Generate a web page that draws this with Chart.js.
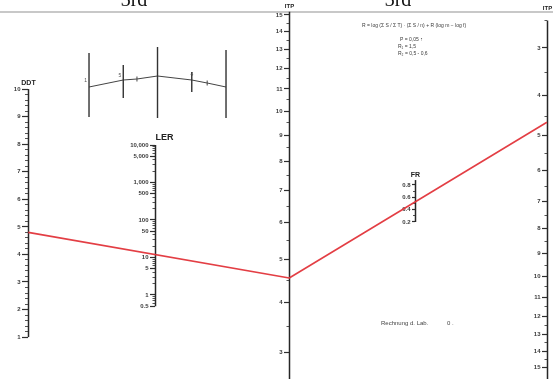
<!DOCTYPE html>
<html>
<head>
<meta charset="utf-8">
<script src="https://cdn.jsdelivr.net/npm/chart.js@4/dist/chart.umd.min.js"></script>
<style>
  html, body { margin: 0; padding: 0; background: #fff; }
  #wrap { width: 553px; height: 379px; position: relative; }
</style>
</head>
<body>
<div id="wrap"><canvas id="nomo" width="553" height="379"></canvas></div>
<script>
// ---- Nomogram scale values ----
const ddtLabels = [1, 2, 3, 4, 5, 6, 7, 8, 9, 10];
const lerLabels = [0.5, 1, 5, 10, 50, 100, 500, 1000, 5000, 10000];
const lerLabelText = ['0.5', '1', '5', '10', '50', '100', '500', '1,000', '5,000', '10,000'];
const itpLabels = [3, 4, 5, 6, 7, 8, 9, 10, 11, 12, 13, 14, 15];
const frLabels = [0.2, 0.4, 0.6, 0.8];
const itpShift = 2; // ITP scales are graduated on log(ITP + 2)

// reading line: DDT -> (LER) -> ITP -> (FR) -> ITP
const readingAxes = ['ddt', 'itp', 'itpR'];
const readingValues = [4.8, 4.55, 4.65];

// small key diagram (five nomogram lines and the reading curve)
const sketchLongLines = [[0, 4.7, -1.7], [2, 5.3, -1.8], [4, 5.0, -1.8]];
const sketchShortLines = [[1, 3.5, 0.2], [3, 2.8, 0.8]];
const sketchCurveX = [0, 1, 1.4, 2, 3, 3.45, 4];
const sketchCurveY = [1.3, 2.0, 2.1, 2.4, 2.0, 1.7, 1.3];

// minor graduations
const ddtMinor = [];
for (let i = 10; i <= 100; i += 2) { if (i % 10) ddtMinor.push(i / 10); }
const lerMinor = [];
[0.1, 1, 10, 100, 1000].forEach(d => [2, 3, 4, 6, 7, 8, 9].forEach(m => {
  const v = +(d * m).toPrecision(3);
  if (v > 0.5 && v < 10000) lerMinor.push(v);
}));
const itpMinor = [];
for (let i = 5; i <= 29; i += 2) itpMinor.push(i / 2);
const frMinor = [0.3, 0.5, 0.7];

// ---- axis layout ----
const frameX = { ddt: 5.1, ler: 28.0, itp: 52.3, fr: 75.0, itpR: 98.9 };
const axisDefs = {
  ddt:  { type: 'linear', min: -0.52, max: 13.23, reverse: false, majors: ddtLabels, minors: ddtMinor,
          text: v => String(v), span: [1, 10], tick: 6, title: 'DDT', titleSize: 7 },
  ler:  { type: 'logarithmic', min: 0.00575, max: 7.36e7, reverse: false, majors: lerLabels, minors: lerMinor,
          text: v => lerLabelText[lerLabels.indexOf(v)], span: [0.5, 10000], tick: 5, title: 'LER', titleSize: 9 },
  itp:  { type: 'logarithmic', min: 4.54, max: 17.95, reverse: false, shift: itpShift,
          majors: itpLabels, minors: itpMinor, text: v => String(v), span: [2.4, 15.2], tick: 5, title: 'ITP', titleSize: 6 },
  fr:   { type: 'linear', min: -2.346, max: 3.8, reverse: false, majors: frLabels, minors: frMinor,
          text: v => v.toFixed(1), span: [0.2, 0.88], tick: 3, title: 'FR', titleSize: 7 },
  itpR: { type: 'logarithmic', min: 4.16, max: 17.8, reverse: true, shift: itpShift,
          majors: itpLabels, minors: itpMinor, text: v => String(v), span: [2.5, 15.8], tick: 5, title: 'ITP', titleSize: 6 }
};

function toScale(name, v) { return v + (axisDefs[name].shift || 0); }

function zeroPad(s) { s.paddingTop = 0; s.paddingBottom = 0; s.paddingLeft = 0; s.paddingRight = 0; }

const scales = {
  x:  { type: 'linear', min: 0, max: 100, display: false },
  sx: { type: 'linear', axis: 'x', min: -2.599, max: 13.547, display: false },
  sy: { type: 'linear', axis: 'y', min: -27.9, max: 10, display: false }
};

Object.keys(axisDefs).forEach(name => {
  const d = axisDefs[name];
  const base = {
    type: d.type, axis: 'y', position: { x: frameX[name] },
    min: d.min, max: d.max, reverse: d.reverse, bounds: 'data',
    border: { display: false },
    afterFit: zeroPad
  };
  scales[name] = Object.assign({}, base, {
    afterBuildTicks: s => { s.ticks = d.majors.map(v => ({ value: toScale(name, v) })); },
    ticks: { display: false, autoSkip: false },
    grid: { drawOnChartArea: false, drawTicks: true, tickLength: d.tick, tickColor: '#2f2f2f', tickWidth: 1.2 }
  });
  scales[name + 'Minor'] = Object.assign({}, base, {
    afterBuildTicks: s => { s.ticks = d.minors.map(v => ({ value: toScale(name, v) })); },
    ticks: { display: false, autoSkip: false },
    grid: { drawOnChartArea: false, drawTicks: true, tickLength: Math.max(2, d.tick / 2), tickColor: '#555', tickWidth: 1 }
  });
});

// ---- datasets for the key diagram ----
const sketchSets = [];
sketchLongLines.concat(sketchShortLines).forEach(l => {
  sketchSets.push({
    data: [{ x: l[0], y: l[1] }, { x: l[0], y: l[2] }],
    xAxisID: 'sx', yAxisID: 'sy', showLine: true, borderColor: '#333', borderWidth: 1.4, pointRadius: 0
  });
});
sketchSets.push({
  data: sketchCurveX.map((x, i) => ({ x: x, y: sketchCurveY[i] })),
  xAxisID: 'sx', yAxisID: 'sy', showLine: true, borderColor: '#444', borderWidth: 1, tension: 0,
  pointRadius: sketchCurveX.map((x, i) => (i === 2 || i === 5) ? 2.5 : 0),
  pointStyle: 'line', rotation: 90, pointBorderColor: '#444', pointBorderWidth: 1
});

// ---- drawing of axis lines, labels, titles, reading line and annotations ----
const nomogramPlugin = {
  id: 'nomogram',
  beforeDraw(chart) {
    const ctx = chart.ctx;
    ctx.save();
    ctx.fillStyle = '#fff';
    ctx.fillRect(0, 0, chart.width, chart.height);
    ctx.fillStyle = '#111';
    ctx.font = '20px "Liberation Serif"';
    ctx.textAlign = 'center';
    ctx.textBaseline = 'alphabetic';
    ctx.fillText('3rd', 134, 6);
    ctx.fillText('3rd', 398, 6);
    ctx.strokeStyle = '#c8c8c8';
    ctx.lineWidth = 2;
    ctx.beginPath(); ctx.moveTo(0, 12); ctx.lineTo(chart.width, 12); ctx.stroke();
    ctx.restore();
  },
  afterDraw(chart) {
    const ctx = chart.ctx;
    const fx = chart.scales.x;
    ctx.save();
    Object.keys(axisDefs).forEach(name => {
      const d = axisDefs[name];
      const s = chart.scales[name];
      const x = Math.round(fx.getPixelForValue(frameX[name])) + 0.5;
      const y1 = s.getPixelForValue(toScale(name, d.span[0]));
      const y2 = s.getPixelForValue(toScale(name, d.span[1]));
      // axis line
      ctx.strokeStyle = '#262626';
      ctx.lineWidth = 1.5;
      ctx.beginPath(); ctx.moveTo(x, y1); ctx.lineTo(x, y2); ctx.stroke();
      // tick labels, left of the tick marks
      ctx.fillStyle = '#3a3a3a';
      ctx.font = 'bold 6px "Liberation Sans"';
      ctx.textAlign = 'right';
      ctx.textBaseline = 'middle';
      d.majors.forEach(v => {
        ctx.fillText(d.text(v), x - d.tick - 2, s.getPixelForValue(toScale(name, v)));
      });
      // title
      const top = Math.min(y1, y2);
      ctx.fillStyle = '#222';
      ctx.font = 'bold ' + d.titleSize + 'px "Liberation Sans"';
      ctx.textBaseline = 'bottom';
      if (name === 'ler') {
        ctx.textAlign = 'left';
        ctx.fillText(d.title, x, top - 3);
      } else if (name === 'itpR') {
        ctx.textAlign = 'center';
        ctx.fillText(d.title, x, 11);
      } else if (name === 'itp') {
        ctx.textAlign = 'center';
        ctx.fillText(d.title, x, 9);
      } else {
        ctx.textAlign = 'center';
        ctx.fillText(d.title, x, top - 2);
      }
    });

    // reading line
    ctx.strokeStyle = 'rgba(226, 52, 58, 0.95)';
    ctx.lineWidth = 1.6;
    ctx.lineJoin = 'round';
    ctx.beginPath();
    readingAxes.forEach((name, i) => {
      const px = fx.getPixelForValue(frameX[name]);
      const py = chart.scales[name].getPixelForValue(toScale(name, readingValues[i]));
      if (i === 0) ctx.moveTo(px, py); else ctx.lineTo(px, py);
    });
    ctx.stroke();

    // key diagram numbers
    const sx = chart.scales.sx, sy = chart.scales.sy;
    ctx.fillStyle = '#555';
    ctx.font = '5px "Liberation Sans"';
    ctx.textAlign = 'center';
    ctx.textBaseline = 'middle';
    [[-0.1, 1.9, '1'], [0.9, 2.4, '5'], [3.0, 2.5, '4']].forEach(t => {
      ctx.fillText(t[2], sx.getPixelForValue(t[0]), sy.getPixelForValue(t[1]));
    });

    // formula block
    ctx.fillStyle = '#3a3a3a';
    ctx.font = '5px "Liberation Sans"';
    ctx.textAlign = 'left';
    ctx.textBaseline = 'middle';
    ctx.fillText('R = log (Σ S / Σ T) · (Σ S / n) + R (log m − log f)', 362, 26);
    ctx.fillText('P = 0,05 ↑', 400, 40);
    ctx.fillText('R\u2081 = 1,5', 398, 47);
    ctx.fillText('R\u2082 = 0,5 - 0,6', 398, 54);

    // note near the bottom
    ctx.fillStyle = '#444';
    ctx.font = '6px "Liberation Sans"';
    ctx.fillText('Rechnung d. Lab.', 381, 323);
    ctx.fillText('0 .', 447, 323);
    ctx.restore();
  }
};

new Chart(document.getElementById('nomo'), {
  type: 'scatter',
  data: { datasets: sketchSets },
  options: {
    responsive: false,
    animation: false,
    layout: { padding: 0 },
    plugins: { legend: { display: false }, tooltip: { enabled: false } },
    scales: scales
  },
  plugins: [nomogramPlugin]
});
</script>
</body>
</html>
